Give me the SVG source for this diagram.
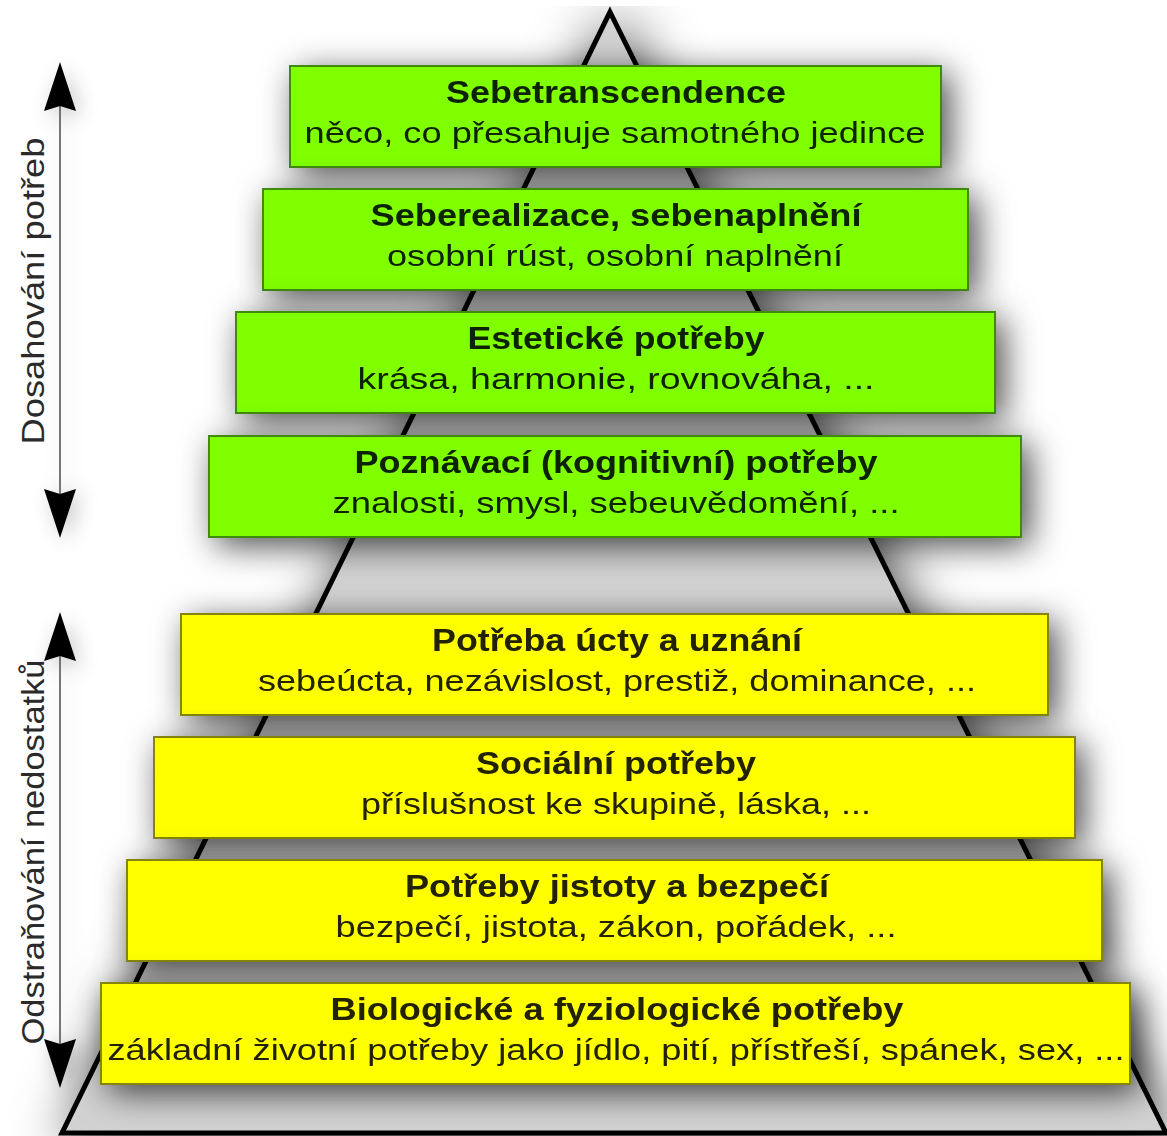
<svg xmlns="http://www.w3.org/2000/svg" width="1167" height="1136" viewBox="0 0 1167 1136">
<defs>
<filter id="shadow" filterUnits="userSpaceOnUse" x="0" y="0" width="1167" height="1136">
<feGaussianBlur in="SourceAlpha" stdDeviation="17"/>
<feOffset dx="8" dy="8" result="b"/>
<feFlood flood-color="#000" flood-opacity="0.7"/>
<feComposite in2="b" operator="in"/>
<feMerge><feMergeNode/><feMergeNode in="SourceGraphic"/></feMerge>
</filter>
<filter id="pshadow" filterUnits="userSpaceOnUse" x="0" y="0" width="1167" height="1136">
<feGaussianBlur in="SourceAlpha" stdDeviation="28"/>
<feOffset dx="6" dy="6" result="b"/>
<feFlood flood-color="#000" flood-opacity="0.75"/>
<feComposite in2="b" operator="in"/>
<feMerge><feMergeNode/><feMergeNode in="SourceGraphic"/></feMerge>
</filter>
<filter id="soft" filterUnits="userSpaceOnUse" x="0" y="0" width="1167" height="1136">
<feGaussianBlur in="SourceAlpha" stdDeviation="10"/>
<feOffset dx="5" dy="5" result="b"/>
<feFlood flood-color="#000" flood-opacity="0.22"/>
<feComposite in2="b" operator="in"/>
<feMerge><feMergeNode/><feMergeNode in="SourceGraphic"/></feMerge>
</filter>
</defs>
<style>
.g rect{fill:#80ff00;stroke:#3f8a0a;stroke-width:2}
.y rect{fill:#ffff00;stroke:#85850a;stroke-width:2}
.t{font-family:"Liberation Sans",Arial,sans-serif;font-weight:bold;font-size:31px;text-anchor:middle}
.s{font-family:"Liberation Sans",Arial,sans-serif;font-size:30px;text-anchor:middle}
.g text{fill:#0b2000}
.y text{fill:#222200}
.lbl{font-family:"Liberation Sans",Arial,sans-serif;font-size:32px;fill:#2a2a2a;text-anchor:middle}
.ax{stroke:#555;stroke-width:1.6;fill:none}
.ah{fill:#000}
</style>
<rect width="1167" height="1136" fill="#fff"/>
<g id="pyramid" filter="url(#pshadow)">
<polygon points="610,12 1166,1133 62,1133" fill="#d2d2d2" stroke="#000" stroke-width="5" stroke-linejoin="miter"/>
</g>
<g id="connectors">
<g filter="url(#soft)">
<line class="ax" x1="60" y1="100" x2="60" y2="500"/>
<polygon class="ah" points="60,62 76,111 60,106 44,111"/>
<polygon class="ah" points="60,538 76,489 60,494 44,489"/>
<line class="ax" x1="60" y1="650" x2="60" y2="1050"/>
<polygon class="ah" points="60,612 76,661 60,656 44,661"/>
<polygon class="ah" points="60,1088 76,1039 60,1044 44,1039"/>
</g>
</g>
<g id="label-dosahovani">
<text class="lbl" transform="translate(44,291) rotate(-90)" textLength="307" lengthAdjust="spacingAndGlyphs">Dosahování potřeb</text>
</g>
<g id="label-odstranovani">
<text class="lbl" transform="translate(44,852) rotate(-90)" textLength="385" lengthAdjust="spacingAndGlyphs">Odstraňování nedostatků</text>
</g>
<g id="n1" class="g" filter="url(#shadow)">
<rect x="290" y="66" width="651" height="101"/>
<text class="t" x="616" y="103" textLength="340" lengthAdjust="spacingAndGlyphs">Sebetranscendence</text>
<text class="s" x="615" y="143" textLength="621" lengthAdjust="spacingAndGlyphs">něco, co přesahuje samotného jedince</text>
</g>
<g id="n2" class="g" filter="url(#shadow)">
<rect x="263" y="189" width="705" height="101"/>
<text class="t" x="616" y="226" textLength="491" lengthAdjust="spacingAndGlyphs">Seberealizace, sebenaplnění</text>
<text class="s" x="615" y="266" textLength="456" lengthAdjust="spacingAndGlyphs">osobní rúst, osobní naplnění</text>
</g>
<g id="n3" class="g" filter="url(#shadow)">
<rect x="236" y="312" width="759" height="101"/>
<text class="t" x="616" y="349" textLength="297" lengthAdjust="spacingAndGlyphs">Estetické potřeby</text>
<text class="s" x="616" y="389" textLength="517" lengthAdjust="spacingAndGlyphs">krása, harmonie, rovnováha, ...</text>
</g>
<g id="n4" class="g" filter="url(#shadow)">
<rect x="209" y="436" width="812" height="101"/>
<text class="t" x="616" y="473" textLength="523" lengthAdjust="spacingAndGlyphs">Poznávací (kognitivní) potřeby</text>
<text class="s" x="616" y="513" textLength="567" lengthAdjust="spacingAndGlyphs">znalosti, smysl, sebeuvědomění, ...</text>
</g>
<g id="n5" class="y" filter="url(#shadow)">
<rect x="181" y="614" width="867" height="101"/>
<text class="t" x="617" y="651" textLength="370" lengthAdjust="spacingAndGlyphs">Potřeba úcty a uznání</text>
<text class="s" x="617" y="691" textLength="718" lengthAdjust="spacingAndGlyphs">sebeúcta, nezávislost, prestiž, dominance, ...</text>
</g>
<g id="n6" class="y" filter="url(#shadow)">
<rect x="154" y="737" width="921" height="101"/>
<text class="t" x="616" y="774" textLength="280" lengthAdjust="spacingAndGlyphs">Sociální potřeby</text>
<text class="s" x="616" y="814" textLength="510" lengthAdjust="spacingAndGlyphs">příslušnost ke skupině, láska, ...</text>
</g>
<g id="n7" class="y" filter="url(#shadow)">
<rect x="127" y="860" width="975" height="101"/>
<text class="t" x="617" y="897" textLength="424" lengthAdjust="spacingAndGlyphs">Potřeby jistoty a bezpečí</text>
<text class="s" x="616" y="937" textLength="561" lengthAdjust="spacingAndGlyphs">bezpečí, jistota, zákon, pořádek, ...</text>
</g>
<g id="n8" class="y" filter="url(#shadow)">
<rect x="101" y="983" width="1029" height="101"/>
<text class="t" x="617" y="1020" textLength="573" lengthAdjust="spacingAndGlyphs">Biologické a fyziologické potřeby</text>
<text class="s" x="616" y="1060" textLength="1017" lengthAdjust="spacingAndGlyphs">základní životní potřeby jako jídlo, pití, přístřeší, spánek, sex, ...</text>
</g>
</svg>
